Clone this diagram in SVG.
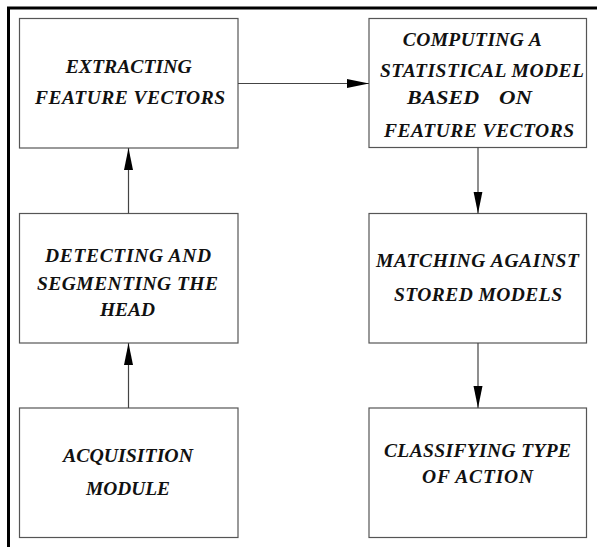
<svg xmlns="http://www.w3.org/2000/svg" width="597" height="547" viewBox="0 0 597 547">
<style>
.box{fill:#fff;stroke:#555;stroke-width:1.2}
.lbl{font-family:"Liberation Serif","Times New Roman",serif;font-weight:bold;font-style:italic;font-size:19.5px;fill:#111;text-anchor:middle}
.edge{stroke:#444;stroke-width:1.2;fill:none}
.frame{stroke:#000;stroke-width:3;fill:none}
</style>
<defs>
<marker id="ah" markerUnits="userSpaceOnUse" markerWidth="22" markerHeight="10" refX="22" refY="5" orient="auto">
<path d="M0,0.5 L22,5 L0,9.5 Z" fill="#000"/>
</marker>
</defs>
<rect width="597" height="547" fill="#fff"/>
<path class="frame" d="M8.5,547 V8 H597"/>
<g id="extract">
<rect class="box" x="19.5" y="18.5" width="218.5" height="129.5"/>
<text class="lbl" x="128.7" y="72.7" textLength="126" lengthAdjust="spacingAndGlyphs">EXTRACTING</text>
<text class="lbl" x="130" y="104" textLength="190" lengthAdjust="spacing">FEATURE   VECTORS</text>
</g>
<g id="detect">
<rect class="box" x="19.5" y="213.5" width="218.5" height="129.5"/>
<text class="lbl" x="128" y="261.7" textLength="166" lengthAdjust="spacing">DETECTING AND</text>
<text class="lbl" x="127.5" y="290" textLength="181" lengthAdjust="spacing">SEGMENTING THE</text>
<text class="lbl" x="127.5" y="316" textLength="55" lengthAdjust="spacingAndGlyphs">HEAD</text>
</g>
<g id="acquire">
<rect class="box" x="19.5" y="408" width="218.5" height="129.5"/>
<text class="lbl" x="128" y="461.7" textLength="130" lengthAdjust="spacingAndGlyphs">ACQUISITION</text>
<text class="lbl" x="128" y="495" textLength="84" lengthAdjust="spacingAndGlyphs">MODULE</text>
</g>
<g id="compute">
<rect class="box" x="369" y="18.5" width="217.5" height="129"/>
<text class="lbl" x="472.3" y="46" textLength="139" lengthAdjust="spacing">COMPUTING A</text>
<text class="lbl" x="482" y="77" textLength="204" lengthAdjust="spacing">STATISTICAL MODEL</text>
<text class="lbl" y="104" style="text-anchor:start"><tspan x="407" textLength="72" lengthAdjust="spacingAndGlyphs">BASED</tspan> <tspan x="499" textLength="33" lengthAdjust="spacingAndGlyphs">ON</tspan></text>
<text class="lbl" x="479" y="137" textLength="190" lengthAdjust="spacing">FEATURE VECTORS</text>
</g>
<g id="match">
<rect class="box" x="369" y="213.5" width="217.5" height="129.5"/>
<text class="lbl" x="477.5" y="267.3" textLength="203" lengthAdjust="spacing">MATCHING AGAINST</text>
<text class="lbl" x="478" y="301" textLength="168" lengthAdjust="spacing">STORED MODELS</text>
</g>
<g id="classify">
<rect class="box" x="369" y="408" width="217.5" height="129.5"/>
<text class="lbl" x="477.5" y="457" textLength="187" lengthAdjust="spacing">CLASSIFYING TYPE</text>
<text class="lbl" x="477.5" y="483" textLength="111" lengthAdjust="spacing">OF ACTION</text>
</g>
<g id="connectors">
<line class="edge" x1="128.5" y1="408" x2="128.5" y2="343" marker-end="url(#ah)"/>
<line class="edge" x1="128.5" y1="213.5" x2="128.5" y2="148" marker-end="url(#ah)"/>
<line class="edge" x1="238" y1="83.5" x2="369" y2="83.5" marker-end="url(#ah)"/>
<line class="edge" x1="478" y1="147.5" x2="478" y2="213.5" marker-end="url(#ah)"/>
<line class="edge" x1="478" y1="343" x2="478" y2="408" marker-end="url(#ah)"/>
</g>
</svg>
